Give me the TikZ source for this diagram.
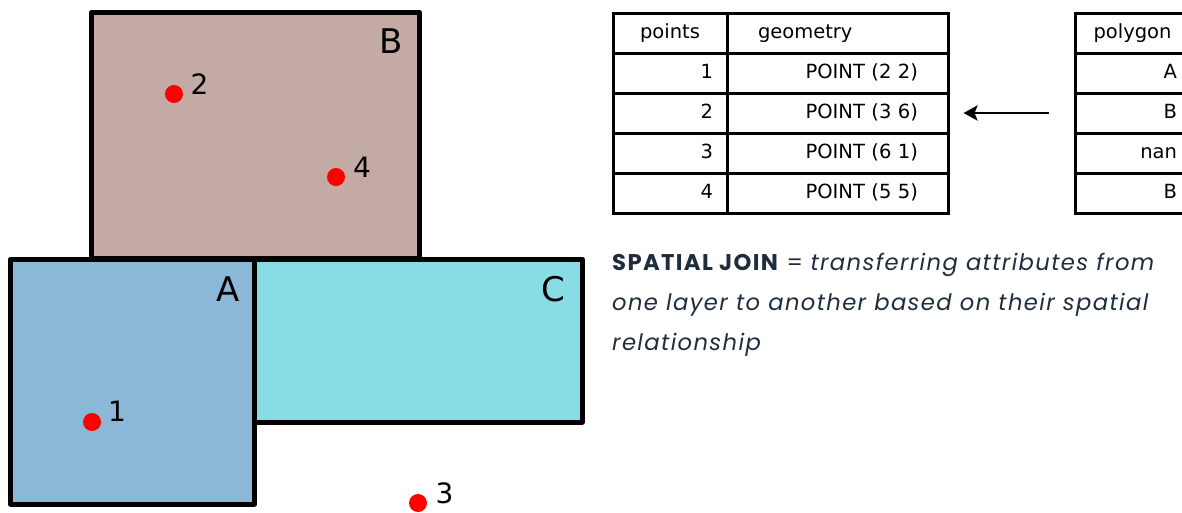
\documentclass[tikz,border=0pt]{standalone}
\usepackage{fontspec}
\setmainfont{DejaVu Sans}
\newfontfamily\joinfont[LetterSpace=6]{Poppins}
\usetikzlibrary{arrows.meta,calc}
\definecolor{polyB}{HTML}{C4AAA5}
\definecolor{polyA}{HTML}{8CB8D7}
\definecolor{polyC}{HTML}{89DCE6}
\definecolor{navy}{HTML}{1E2D3D}
\tikzset{
  poly/.style={draw=black, line width=5pt, line join=round},
  dot/.style={circle, fill=red, inner sep=0pt, minimum size=18pt},
  ptlabel/.style={inner sep=0pt, font=\fontsize{28}{30}\selectfont},
  polylabel/.style={inner sep=0pt, font=\fontsize{34}{36}\selectfont},
  cell/.style={draw=black, line width=3pt, minimum height=40pt, inner ysep=0pt,
    font=\fontsize{19.5}{21}\selectfont, text height=1.05em, text depth=0em},
  colA/.style={cell, inner xsep=14pt, text width=86pt, align=right},
  colB/.style={cell, inner xsep=30pt, text width=161pt, align=right},
  colBh/.style={cell, inner xsep=31pt, text width=159pt, align=left},
  colP/.style={cell, inner xsep=13pt, text width=89pt, align=right},
  arrowline/.style={draw=black, line width=2.8pt, -{Stealth[length=14pt,width=15pt,inset=3pt]}},
  jointext/.style={inner sep=0pt, anchor=base west, text=navy, font=\joinfont\fontsize{22.7}{26}\selectfont}
}
\begin{document}
\begin{tikzpicture}[x=1pt,y=-1pt]
\useasboundingbox (0,0) rectangle (1182,512);
\clip (0,0) rectangle (1182,512);
% polygons
\path[poly, fill=polyB] (91.5,12.5) rectangle (419.5,258);
\path[poly, fill=polyA] (10.5,259) rectangle (254.5,504);
\path[poly, fill=polyC] (254.5,259) rectangle (582,422);
\node[polylabel] (lB) at (391,41.5) {B};
\node[polylabel] (lA) at (228,289) {A};
\node[polylabel] (lC) at (553,289) {C};
% points
\node[dot] (d1) at (92,422) {};
\node[dot] (d2) at (174,94) {};
\node[dot] (d3) at (418,503) {};
\node[dot] (d4) at (336,177) {};
\node[ptlabel] (n1) at (117,411) {1};
\node[ptlabel] (n2) at (199.5,84) {2};
\node[ptlabel] (n3) at (444.5,493.5) {3};
\node[ptlabel] (n4) at (362,167) {4};
% table 1
\node[cell, minimum width=114pt, inner xsep=0pt, align=center] (h1) at (670,33) {points};
\node[colBh] (h2) at (837.5,33) {geometry};
\node[colA] (p1) at (670,73) {1};
\node[colA] (p2) at (670,113) {2};
\node[colA] (p3) at (670,153) {3};
\node[colA] (p4) at (670,193) {4};
\node[colB] (g1) at (837.5,73) {POINT (2 2)};
\node[colB] (g2) at (837.5,113) {POINT (3 6)};
\node[colB] (g3) at (837.5,153) {POINT (6 1)};
\node[colB] (g4) at (837.5,193) {POINT (5 5)};
% table 2
\node[cell, minimum width=115pt, inner xsep=0pt, align=center] (qh) at (1132.5,33) {polygon};
\node[colP] (q1) at (1132.5,73) {A};
\node[colP] (q2) at (1132.5,113) {B};
\node[colP] (q3) at (1132.5,153) {nan};
\node[colP] (q4) at (1132.5,193) {B};
% arrow
\draw[arrowline] ($(q2.west)+(-25,0)$) -- ($(g2.east)+(14,0)$);
% text
\node[jointext] (j1) at (612,270) {\textbf{SPATIAL JOIN} = \textit{transferring attributes from}};
\node[jointext] (j2) at ($(j1.base west)+(0,40)$) {\textit{one layer to another based on their spatial}};
\node[jointext] (j3) at ($(j2.base west)+(0,40)$) {\textit{relationship}};
\end{tikzpicture}
\end{document}
